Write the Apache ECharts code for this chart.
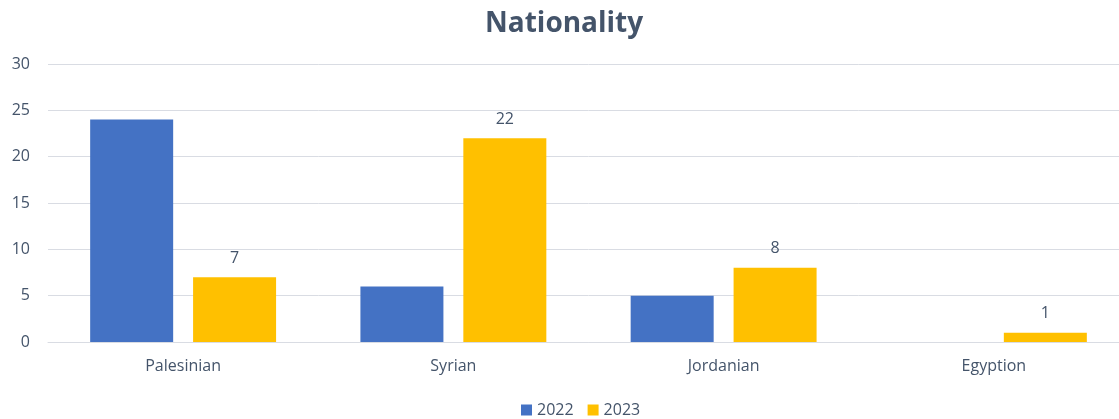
<!DOCTYPE html>
<html><head><meta charset="utf-8">
<script src="https://cdn.jsdelivr.net/npm/echarts@6/dist/echarts.min.js"></script>
<style>html,body{margin:0;padding:0;background:#fff;overflow:hidden}#c{width:1132px;height:419px}</style>
</head><body><div id="c"></div>
<script>
const categories = ['Palesinian', 'Syrian', 'Jordanian', 'Egyption'];
const series2022 = [24, 6, 5, null];
const series2023 = [7, 22, 8, 1];
const yTicks = [0, 5, 10, 15, 20, 25, 30];

const font = '"Open Sans", "Noto Sans", sans-serif';
const txt = '#44546A';
const chart = echarts.init(document.getElementById('c'));
chart.setOption({
  animation: false,
  backgroundColor: '#fff',
  title: { text: 'Nationality', left: 480, top: 5,
    textStyle: { fontFamily: font, fontSize: 28, fontWeight: 'bold', color: txt } },
  legend: { top: 397, left: 516, itemWidth: 11, itemHeight: 11, itemGap: 14,
    icon: 'rect',
    textStyle: { fontFamily: font, fontSize: 16, color: txt },
    data: ['2022', '2023'] },
  grid: { left: 48, top: 64, width: 1081, height: 278 },
  xAxis: { type: 'category', data: categories,
    axisLine: { lineStyle: { color: '#D9DCE3' } }, axisTick: { show: false },
    axisLabel: { fontFamily: font, fontSize: 16, color: txt, margin: 16 } },
  yAxis: { type: 'value', min: yTicks[0], max: yTicks[yTicks.length - 1], interval: 5,
    axisLine: { show: false }, axisTick: { show: false },
    splitLine: { lineStyle: { color: '#D9DCE3' } },
    axisLabel: { fontFamily: font, fontSize: 16, color: txt, margin: 18 } },
  series: [
    { name: '2022', type: 'bar', data: series2022, barWidth: 83, barGap: '24%',
      itemStyle: { color: '#4472C4' } },
    { name: '2023', type: 'bar', data: series2023, barWidth: 83,
      itemStyle: { color: '#FFC000' },
      label: { show: true, position: 'top', distance: 11, fontFamily: font, fontSize: 16, color: txt } }
  ]
});
</script></body></html>
